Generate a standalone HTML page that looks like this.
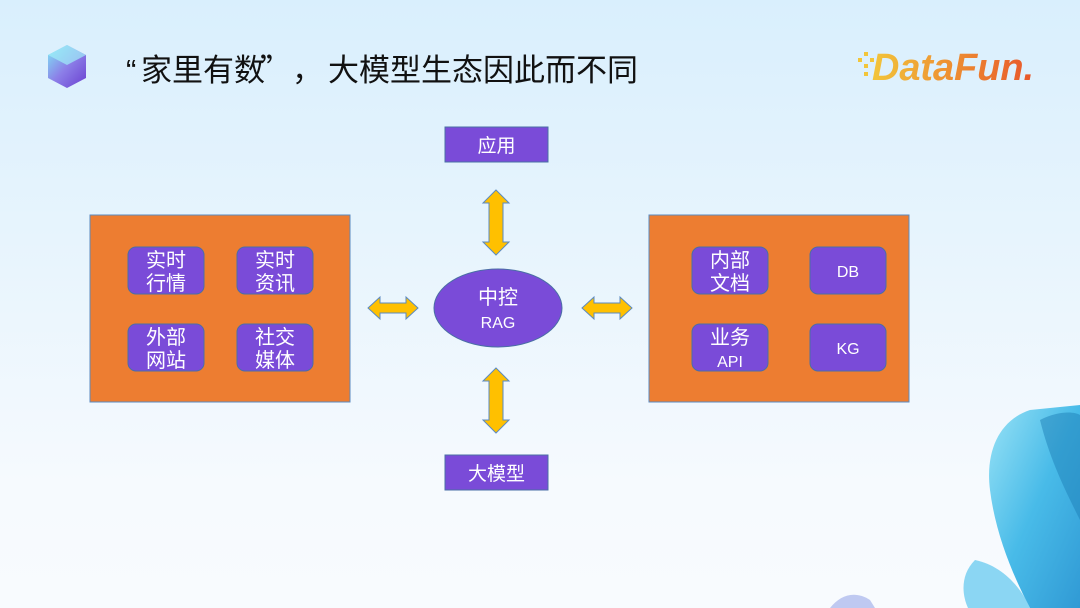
<!DOCTYPE html>
<html><head><meta charset="utf-8"><style>
html,body{margin:0;padding:0}
body{width:1080px;height:608px;overflow:hidden;background:linear-gradient(180deg,#d9effd 0%,#e9f5fd 45%,#f6fafe 80%,#f8fbfe 100%);position:relative;font-family:"Liberation Sans","Noto Sans CJK SC",sans-serif}
svg{position:absolute;left:0;top:0}
</style></head><body>
<svg width="1080" height="608" viewBox="0 0 1080 608" font-family="Liberation Sans, Noto Sans CJK SC, sans-serif">
<defs>
<linearGradient id="cube" x1="0" y1="0" x2="1" y2="1"><stop offset="0" stop-color="#7fe9f5"/><stop offset="0.5" stop-color="#8c7fe8"/><stop offset="1" stop-color="#6a3fd0"/></linearGradient>
<linearGradient id="sw" x1="0" y1="0" x2="1" y2="1"><stop offset="0" stop-color="#8fe0f5"/><stop offset="0.5" stop-color="#35b4e6"/><stop offset="1" stop-color="#1a8fd0"/></linearGradient>
<linearGradient id="logo" x1="0" y1="0" x2="1" y2="0"><stop offset="0" stop-color="#f2c53a"/><stop offset="1" stop-color="#e8562a"/></linearGradient>
</defs>
<path d="M1030 410 C1000 420 985 450 990 490 C995 530 1010 570 1030 608 L1080 608 L1080 405 Z" fill="url(#sw)" opacity="0.9"/>
<path d="M1040 420 C1060 410 1075 412 1080 415 L1080 520 C1065 490 1050 460 1040 420Z" fill="#1e7fb8" opacity="0.5"/>
<path d="M975 560 C960 575 962 595 968 608 L1030 608 C1020 585 1000 565 975 560Z" fill="#6fcdf0" opacity="0.8"/>
<path d="M830 608 C840 595 855 590 870 600 L875 608Z" fill="#9aa8e8" opacity="0.6"/>
<polygon points="67,45 86,55 86,78 67,88 48,78 48,55" fill="url(#cube)"/>
<polygon points="67,45 86,55 67,65 48,55" fill="#9ff0f8" opacity="0.7"/>
<g font-size="31" fill="#111">
<text x="126" y="81">“</text>
<text x="141" y="81">家里有数</text>
<text x="260" y="81" font-family="Noto Sans CJK SC, sans-serif">”</text>
<text x="292" y="81" font-family="Noto Sans CJK SC, sans-serif">，</text>
<text x="328" y="81">大模型生态因此而不同</text>
</g>
<g fill="#f2c53a"><rect x="858" y="58" width="4" height="4"/><rect x="864" y="52" width="4" height="4"/><rect x="864" y="64" width="4" height="4"/><rect x="870" y="58" width="4" height="4"/><rect x="864" y="72" width="4" height="4"/></g>
<text x="872" y="80" font-size="38" font-style="italic" font-weight="bold" fill="url(#logo)" textLength="162" lengthAdjust="spacingAndGlyphs">DataFun.</text>
<rect x="445" y="127" width="103" height="35" fill="#7a4bd8" stroke="#4a6fa5" stroke-width="1"/>
<text x="496.5" y="152" font-size="19" fill="#fff" text-anchor="middle">应用</text>
<rect x="445" y="455" width="103" height="35" fill="#7a4bd8" stroke="#4a6fa5" stroke-width="1"/>
<text x="496.5" y="480" font-size="19" fill="#fff" text-anchor="middle">大模型</text>
<rect x="90" y="215" width="260" height="187" fill="#ed7d31" stroke="#5b8ac0" stroke-width="1"/>
<rect x="649" y="215" width="260" height="187" fill="#ed7d31" stroke="#5b8ac0" stroke-width="1"/>
<g fill="#7a4bd8" stroke="#4a6fa5" stroke-width="1">
<rect x="128" y="247" width="76" height="47" rx="8"/><rect x="237" y="247" width="76" height="47" rx="8"/>
<rect x="128" y="324" width="76" height="47" rx="8"/><rect x="237" y="324" width="76" height="47" rx="8"/>
<rect x="692" y="247" width="76" height="47" rx="8"/><rect x="810" y="247" width="76" height="47" rx="8"/>
<rect x="692" y="324" width="76" height="47" rx="8"/><rect x="810" y="324" width="76" height="47" rx="8"/>
</g>
<g fill="#fff" text-anchor="middle" font-size="20">
<text x="166" y="267">实时</text><text x="166" y="290">行情</text>
<text x="275" y="267">实时</text><text x="275" y="290">资讯</text>
<text x="166" y="344">外部</text><text x="166" y="367">网站</text>
<text x="275" y="344">社交</text><text x="275" y="367">媒体</text>
<text x="730" y="267">内部</text><text x="730" y="290">文档</text>
<text x="730" y="344">业务</text>
<text x="730" y="367" font-size="16">API</text>
<text x="848" y="277" font-size="16">DB</text>
<text x="848" y="354" font-size="16">KG</text>
</g>
<ellipse cx="498" cy="308" rx="64" ry="39" fill="#7a4bd8" stroke="#4a6fa5" stroke-width="1"/>
<text x="498" y="304" font-size="20" fill="#fff" text-anchor="middle">中控</text>
<text x="498" y="328" font-size="16" fill="#fff" text-anchor="middle">RAG</text>
<g fill="#ffc000" stroke="#5b8ac0" stroke-width="1">
<polygon points="496,190 509,203 503,203 503,242 509,242 496,255 483,242 489,242 489,203 483,203"/>
<polygon points="496,368 509,381 503,381 503,420 509,420 496,433 483,420 489,420 489,381 483,381"/>
<polygon points="368,308 380,297 380,303 406,303 406,297 418,308 406,319 406,313 380,313 380,319"/>
<polygon points="582,308 594,297 594,303 620,303 620,297 632,308 620,319 620,313 594,313 594,319"/>
</g>
</svg>
</body></html>
